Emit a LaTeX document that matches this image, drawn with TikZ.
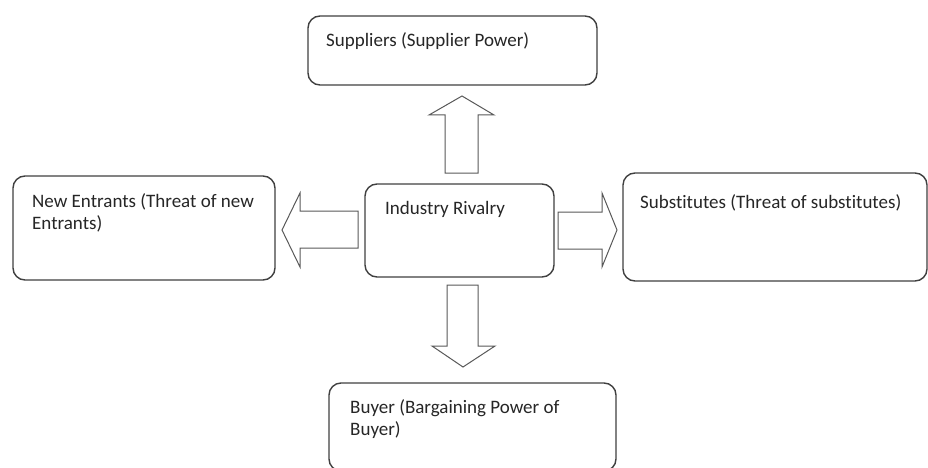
\documentclass[tikz,border=0pt]{standalone}
\usepackage{fontspec}
\setmainfont{Carlito}[Ligatures={NoCommon}]
\begin{document}
\begin{tikzpicture}[x=1pt,y=-1pt,
  box/.style={draw=black!75,line width=1.4pt,rounded corners=12pt,fill=white},
  lbl/.style={anchor=base west,inner sep=0pt,text=black!85,font=\fontsize{19}{22}\selectfont,align=left},
  blockarrow/.style={draw=black!65,line width=1pt,fill=white,line join=miter}]
\useasboundingbox (0,0) rectangle (928,468);
\clip (0,0) rectangle (928,468);
% boxes
\draw[box] (308,16) rectangle (597,85);
\node[lbl] (tsup) at (326,47) {Suppliers (Supplier Power)};
\draw[box] (13,176) rectangle (275,280);
\node[lbl] (tnew) at (32,229) {New Entrants (Threat of new\\Entrants)};
\draw[box] (365,184) rectangle (554,277);
\node[lbl] (tind) at (385,214) {Industry Rivalry};
\draw[box] (623,173) rectangle (927,281);
\node[lbl] (tsub) at (640,208) {Substitutes (Threat of substitutes)};
\draw[box] (329,383) rectangle (616,471);
\node[lbl] (tbuy) at (350,435) {Buyer (Bargaining Power of\\Buyer)};
% block arrows
\draw[blockarrow] (445,173) -- (445,115) -- (429,115) -- (462,96) -- (494,115) -- (478,115) -- (478,173) -- cycle;
\draw[blockarrow] (358,211) -- (300,211) -- (300,193) -- (282,230) -- (300,267) -- (300,248) -- (358,248) -- cycle;
\draw[blockarrow] (558,212) -- (602,212) -- (602,193) -- (617,230) -- (602,267) -- (602,249) -- (558,249) -- cycle;
\draw[blockarrow] (447,285) -- (447,346) -- (432,346) -- (463,367) -- (495,346) -- (478,346) -- (478,285) -- cycle;
\end{tikzpicture}
\end{document}
